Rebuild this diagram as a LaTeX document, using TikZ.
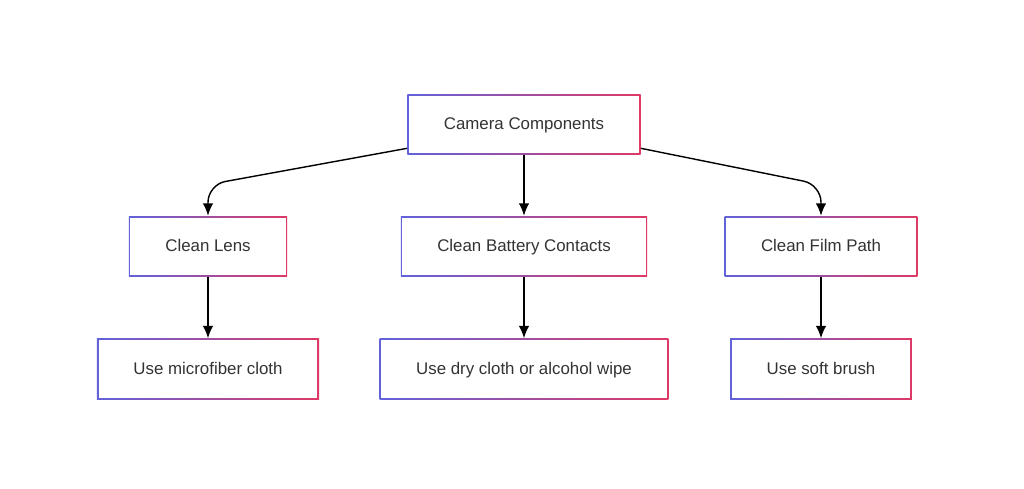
\documentclass[tikz,border=0pt]{standalone}
\usepackage{fontspec}
\setmainfont{Liberation Sans}
\usetikzlibrary{arrows.meta,calc}
\definecolor{edgeblue}{RGB}{98,98,218}
\definecolor{edgered}{RGB}{222,58,102}
\definecolor{txt}{RGB}{51,51,51}
\begin{document}
\begin{tikzpicture}[x=0.02cm,y=-0.02cm,font=\fontsize{9.6}{11}\selectfont,
 box/.style={left color=edgeblue,right color=edgered,text=txt,minimum height=1.22cm,inner xsep=0.73cm,
  text height=1.6ex,text depth=0.45ex,
  path picture={\fill[white] ([shift={(0.9pt,0.9pt)}]path picture bounding box.south west) rectangle ([shift={(-0.9pt,-0.9pt)}]path picture bounding box.north east);}},
 arr/.style={line width=0.8pt,-{Latex[length=7pt,width=6pt]}}]
 \useasboundingbox (0,0) rectangle (1024,489);
 \node[box] (cam) at (524,124.5) {Camera Components};
 \node[box] (lens) at (208,246.5) {Clean Lens};
 \node[box] (batt) at (524,246.5) {Clean Battery Contacts};
 \node[box] (film) at (821,246.5) {Clean Film Path};
 \node[box] (cloth) at (208,369) {Use microfiber cloth};
 \node[box] (wipe) at (524,369) {Use dry cloth or alcohol wipe};
 \node[box] (brush) at (821,369) {Use soft brush};
 \draw[arr,rounded corners=10] ($(cam.south west)+(0,-7)$) -- ($(lens.north)+(0,-31)$) -- (lens.north);
 \draw[arr,rounded corners=10] ($(cam.south east)+(0,-7)$) -- ($(film.north)+(0,-31)$) -- (film.north);
 \draw[arr] (cam) -- (batt);
 \draw[arr] (lens) -- (cloth);
 \draw[arr] (batt) -- (wipe);
 \draw[arr] (film) -- (brush);
\end{tikzpicture}
\end{document}
